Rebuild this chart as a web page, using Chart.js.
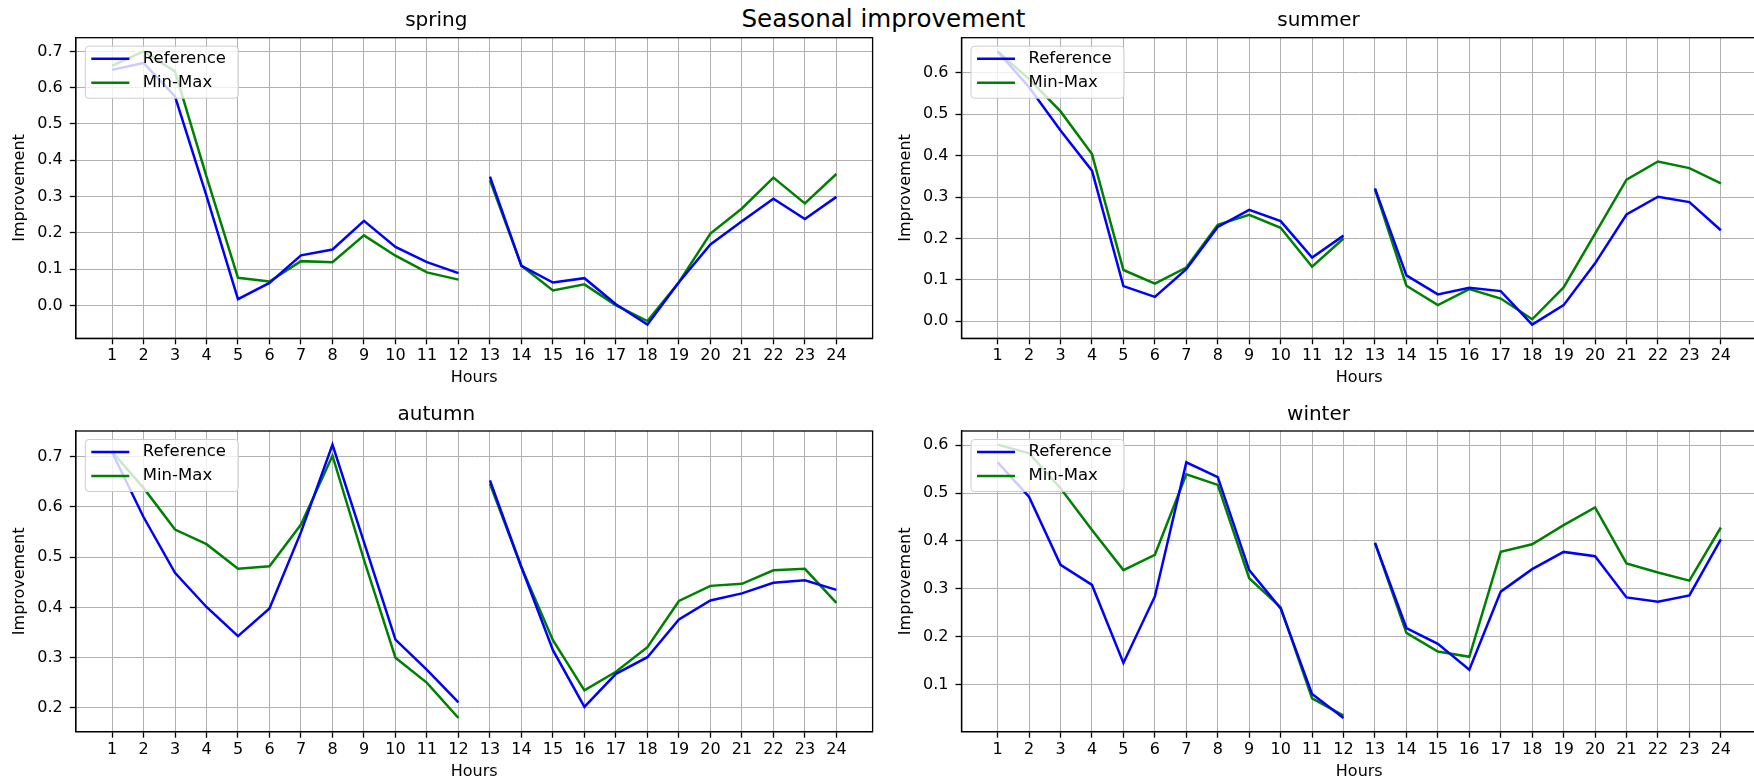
<!DOCTYPE html>
<html>
<head>
<meta charset="utf-8">
<title>Seasonal improvement</title>
<script src="https://cdn.jsdelivr.net/npm/chart.js"></script>
<style>
  html, body { margin: 0; padding: 0; background: #fff; overflow: hidden; }
  body { width: 1754px; height: 780px; position: relative; font-family: "DejaVu Sans", sans-serif; }
  canvas { position: absolute; }
  #suptitle { position: absolute; left: 0; top: 5px; width: 1767px; text-align: center;
              font-size: 24.6px; line-height: 28px; color: #000; white-space: nowrap; }
</style>
</head>
<body>
<div id="suptitle">Seasonal improvement</div>
<canvas id="spring"></canvas>
<canvas id="summer"></canvas>
<canvas id="autumn"></canvas>
<canvas id="winter"></canvas>
<script>
// ***** data *****
var hours = [1, 2, 3, 4, 5, 6, 7, 8, 9, 10, 11, 12, 13, 14, 15, 16, 17, 18, 19, 20, 21, 22, 23, 24];

var springReference = [0.649, 0.668, 0.576, 0.302, 0.017, 0.062, 0.138, 0.154, 0.233, 0.161, 0.119, 0.089,
                       0.355, 0.109, 0.063, 0.075, 0.003, -0.053, 0.064, 0.168, 0.232, 0.294, 0.238, 0.299];
var springMinMax    = [0.660, 0.700, 0.645, 0.355, 0.076, 0.066, 0.122, 0.119, 0.193, 0.137, 0.091, 0.071,
                       0.345, 0.109, 0.041, 0.058, 0.000, -0.043, 0.064, 0.198, 0.267, 0.352, 0.281, 0.362];
var springTicks = [0.0, 0.1, 0.2, 0.3, 0.4, 0.5, 0.6, 0.7];

var summerReference = [0.652, 0.565, 0.461, 0.364, 0.085, 0.059, 0.126, 0.228, 0.269, 0.242, 0.154, 0.207,
                       0.321, 0.111, 0.065, 0.081, 0.073, -0.008, 0.039, 0.140, 0.258, 0.301, 0.288, 0.220];
var summerMinMax    = [0.652, 0.585, 0.507, 0.404, 0.124, 0.091, 0.130, 0.233, 0.257, 0.226, 0.132, 0.200,
                       0.319, 0.086, 0.039, 0.078, 0.055, 0.005, 0.082, 0.212, 0.342, 0.386, 0.370, 0.333];
var summerTicks = [0.0, 0.1, 0.2, 0.3, 0.4, 0.5, 0.6];

var autumnReference = [0.709, 0.580, 0.469, 0.401, 0.343, 0.398, 0.550, 0.724, 0.530, 0.336, 0.276, 0.211,
                       0.653, 0.480, 0.315, 0.202, 0.268, 0.301, 0.376, 0.414, 0.428, 0.449, 0.454, 0.435];
var autumnMinMax    = [0.710, 0.638, 0.555, 0.526, 0.477, 0.482, 0.565, 0.702, 0.495, 0.300, 0.250, 0.180,
                       0.646, 0.480, 0.335, 0.235, 0.272, 0.321, 0.413, 0.443, 0.447, 0.474, 0.477, 0.409];
var autumnTicks = [0.2, 0.3, 0.4, 0.5, 0.6, 0.7];

var winterReference = [0.564, 0.492, 0.350, 0.308, 0.145, 0.284, 0.564, 0.533, 0.339, 0.259, 0.080, 0.030,
                       0.396, 0.218, 0.185, 0.131, 0.294, 0.341, 0.377, 0.368, 0.282, 0.273, 0.286, 0.403];
var winterMinMax    = [0.601, 0.583, 0.510, 0.423, 0.339, 0.371, 0.539, 0.517, 0.322, 0.261, 0.071, 0.035,
                       0.396, 0.208, 0.169, 0.158, 0.377, 0.393, 0.433, 0.470, 0.353, 0.334, 0.317, 0.428];
var winterTicks = [0.1, 0.2, 0.3, 0.4, 0.5, 0.6];

// ***** layout: canvas box [left, top, width, height] and plot area [left, top, right, bottom] in page px *****
var panels = [
    { id: 'spring', ref: springReference, mm: springMinMax, ticks: springTicks,
      box: [0, 0, 880, 390], area: [75.8, 37.7, 872.6, 338.3] },
    { id: 'summer', ref: summerReference, mm: summerMinMax, ticks: summerTicks,
      box: [880, 0, 880, 390], area: [961.5, 37.7, 1757, 338.3] },
    { id: 'autumn', ref: autumnReference, mm: autumnMinMax, ticks: autumnTicks,
      box: [0, 390, 880, 400], area: [75.8, 431, 872.6, 731.7] },
    { id: 'winter', ref: winterReference, mm: winterMinMax, ticks: winterTicks,
      box: [880, 390, 880, 400], area: [961.5, 431, 1757, 731.7] }
];

Chart.defaults.font.family = '"DejaVu Sans", sans-serif';
Chart.defaults.color = '#000';

function toPoints(values) {
    return hours.map(function (h, i) { return { x: h, y: values[i] }; });
}

// the two half-day runs are not joined between hour 12 and 13
function skipNoon(ctx) {
    return ctx.p0DataIndex === 11 ? 'rgba(0,0,0,0)' : undefined;
}

// full box around the plot, on top of the lines
var frame = {
    id: 'frame',
    afterDatasetsDraw: function (chart) {
        var c = chart.ctx, a = chart.chartArea;
        c.save();
        c.strokeStyle = '#000';
        c.lineWidth = 1.3;
        c.strokeRect(a.left, a.top, a.right - a.left, a.bottom - a.top);
        c.restore();
    }
};

// legend box in the upper left corner of the plot
var insideLegend = {
    id: 'insideLegend',
    afterDraw: function (chart) {
        var c = chart.ctx, a = chart.chartArea;
        var x = a.left + 9.5, y = a.top + 8.5, w = 153, h = 52;
        c.save();
        c.beginPath();
        c.roundRect(x, y, w, h, 3.5);
        c.fillStyle = 'rgba(255,255,255,0.8)';
        c.fill();
        c.lineWidth = 1;
        c.strokeStyle = '#cccccc';
        c.stroke();
        c.font = '16.5px "DejaVu Sans"';
        c.textBaseline = 'middle';
        chart.data.datasets.forEach(function (ds, i) {
            var ly = y + 12.5 + i * 24;
            c.beginPath();
            c.moveTo(x + 6, ly);
            c.lineTo(x + 44, ly);
            c.strokeStyle = ds.borderColor;
            c.lineWidth = 2.5;
            c.stroke();
            c.fillStyle = '#000';
            c.fillText(ds.label, x + 57.5, ly);
        });
        c.restore();
    }
};

panels.forEach(function (p) {
    var cv = document.getElementById(p.id);
    var cl = p.box[0], ct = p.box[1], cw = p.box[2], ch = p.box[3];
    var al = p.area[0], at = p.area[1], ar = p.area[2], ab = p.area[3];
    cv.width = cw; cv.height = ch;
    cv.style.left = cl + 'px'; cv.style.top = ct + 'px';
    cv.style.width = cw + 'px'; cv.style.height = ch + 'px';

    // y range with 5% margin around the data
    var all = p.ref.concat(p.mm);
    var lo = Math.min.apply(null, all), hi = Math.max.apply(null, all);
    var pad = (hi - lo) * 0.05;

    new Chart(cv, {
        type: 'line',
        data: {
            datasets: [
                { label: 'Reference', data: toPoints(p.ref), borderColor: 'blue', borderWidth: 2.5,
                  pointRadius: 0, tension: 0, segment: { borderColor: skipNoon } },
                { label: 'Min-Max', data: toPoints(p.mm), borderColor: 'green', borderWidth: 2.5,
                  pointRadius: 0, tension: 0, segment: { borderColor: skipNoon } }
            ]
        },
        options: {
            responsive: false,
            animation: false,
            layout: { padding: { left: 0, top: 0, bottom: 0, right: (cl + cw) - ar } },
            plugins: {
                legend: { display: false },
                tooltip: { enabled: false },
                title: {
                    display: true, text: p.id, color: '#000',
                    font: { size: 20, weight: 'normal' },
                    padding: { top: (at - ct) - 4.5 - 24, bottom: 4.5 }
                }
            },
            scales: {
                x: {
                    type: 'linear', min: -0.15, max: 25.15,
                    afterBuildTicks: function (s) { s.ticks = hours.map(function (v) { return { value: v }; }); },
                    afterFit: function (s) { s.height = (ct + ch) - ab; },
                    ticks: { padding: 2.3, font: { size: 16 }, color: '#000', maxRotation: 0, autoSkip: false,
                             callback: function (v) { return String(v); } },
                    grid: { color: '#b0b0b0', lineWidth: 1, tickColor: '#000', tickLength: 6, tickWidth: 1.3 },
                    border: { color: '#000', width: 1.3 },
                    title: { display: true, text: 'Hours', color: '#000', font: { size: 16 },
                             padding: { top: 0, bottom: (ct + ch) - ab - 49.3 } }
                },
                y: {
                    type: 'linear', min: lo - pad, max: hi + pad,
                    afterBuildTicks: function (s) { s.ticks = p.ticks.map(function (v) { return { value: v }; }); },
                    afterFit: function (s) { s.width = al - cl; },
                    ticks: { padding: 7, font: { size: 16 }, color: '#000',
                             callback: function (v) { return v.toFixed(1); } },
                    grid: { color: '#b0b0b0', lineWidth: 1, tickColor: '#000', tickLength: 6, tickWidth: 1.3 },
                    border: { color: '#000', width: 1.3 },
                    title: { display: true, text: 'Improvement', color: '#000', font: { size: 16 },
                             padding: { top: (al - 56) - cl - 9.6, bottom: 0 } }
                }
            }
        },
        plugins: [frame, insideLegend]
    });
});
</script>
</body>
</html>
